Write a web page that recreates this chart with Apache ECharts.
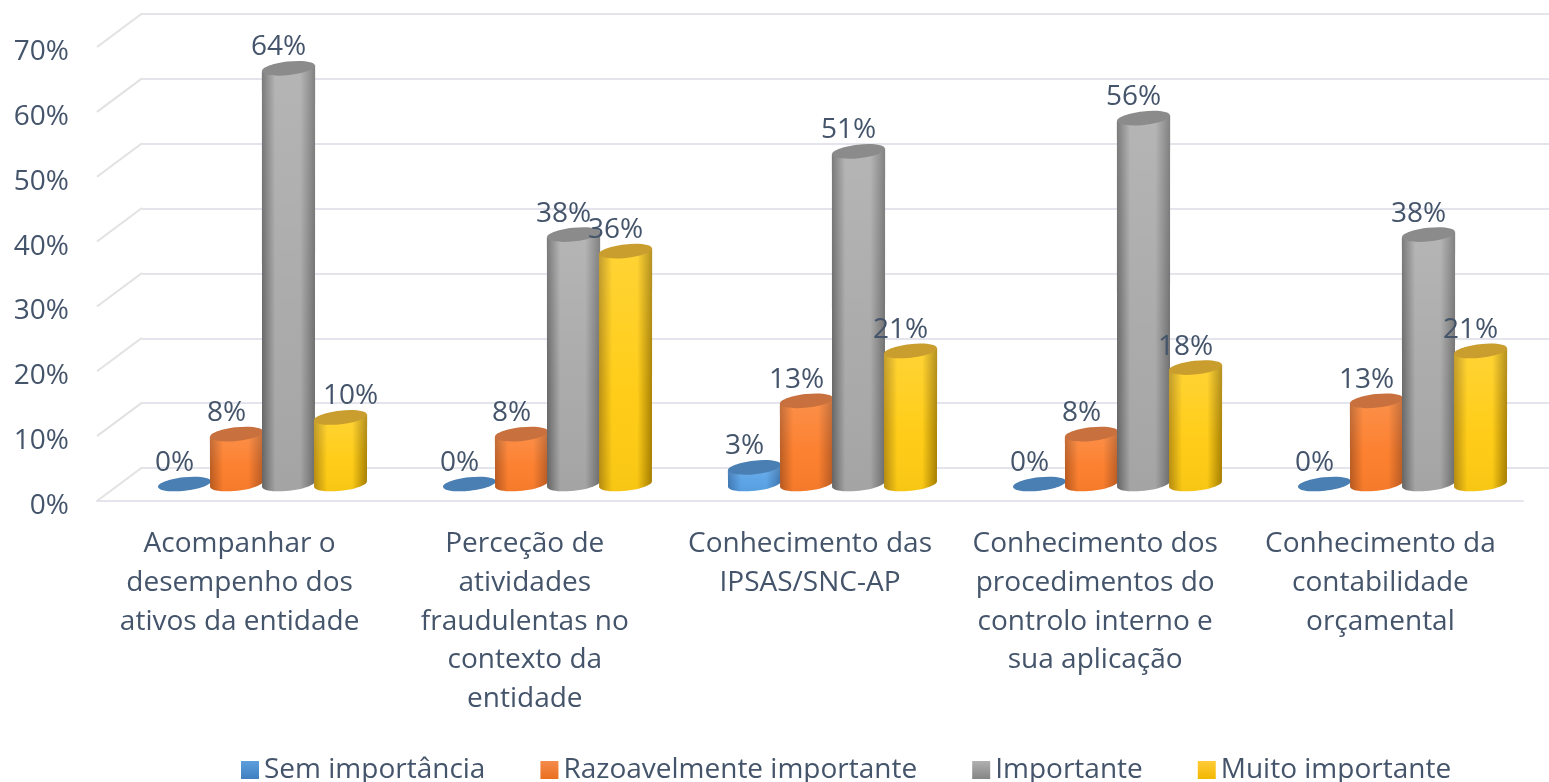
<!DOCTYPE html>
<html><head><meta charset="utf-8">
<style>html,body{margin:0;padding:0;background:#fff}#c{width:1549px;height:782px}</style>
<script src="https://cdn.jsdelivr.net/npm/echarts@6/dist/echarts.min.js"></script>
</head><body><div id="c"></div>
<script>
const categories = [
  "Acompanhar o\ndesempenho dos\nativos da entidade",
  "Perceção de\natividades\nfraudulentas no\ncontexto da\nentidade",
  "Conhecimento das\nIPSAS/SNC-AP",
  "Conhecimento dos\nprocedimentos do\ncontrolo interno e\nsua aplicação",
  "Conhecimento da\ncontabilidade\norçamental"
];
const semImportancia = [0, 0, 2.56, 0, 0];
const razoavelmente = [7.69, 7.69, 12.82, 7.69, 12.82];
const importante = [64.10, 38.46, 51.28, 56.41, 38.46];
const muitoImportante = [10.26, 35.90, 20.51, 17.95, 20.51];
const axisTicks = [0, 10, 20, 30, 40, 50, 60, 70];

const TEXT = '#44546A', FONT = '"Open Sans"', FS = 28, LINE = '#E4E4EC';
const palettes = [
  {name:'Sem importância', top:'#4A7FB3', edgeL:'#3F78B4', mid:'#5AA3E6', edgeR:'#3C74AE', key:['#5E9FDD','#3F7FC0']},
  {name:'Razoavelmente importante', top:'#C8703E', edgeL:'#B95A20', mid:'#FC7E2C', edgeR:'#B85A22', key:['#F58B4C','#E9701F']},
  {name:'Importante', top:'#8B8B8B', edgeL:'#666666', mid:'#A9A9A9', edgeR:'#6E6E6E', key:['#B0B0B0','#858585']},
  {name:'Muito importante', top:'#C99E2E', edgeL:'#B98E10', mid:'#FFCC14', edgeR:'#A88000', key:['#FFCB3A','#F2B800']}
];
const seriesValues = [semImportancia, razoavelmente, importante, muitoImportante];

function halfEllipse(cx, cy, rx, ry, rot, lower) {
  const pts = [], n = 24;
  for (let k = 0; k <= n; k++) {
    const t = lower ? Math.PI - Math.PI * k / n : Math.PI + Math.PI * k / n;
    const ex = rx * Math.cos(t), ey = ry * Math.sin(t);
    pts.push([cx + ex * Math.cos(rot) + ey * Math.sin(rot), cy - ex * Math.sin(rot) + ey * Math.cos(rot)]);
  }
  return pts;
}

function cylinder(si) {
  const p = palettes[si];
  return function (params, api) {
    const cat = api.value(0), val = api.value(1);
    const base = api.coord([cat, 0]), tip = api.coord([cat, val]);
    const band = api.size([1, 0])[0];
    const step = band * 0.1825;
    const cx = base[0] + (si - 1.5) * step;
    const rx = step / 2 + 0.6, ry = 6.8, rot = 0.11;
    const children = [];
    if (val > 0) {
      const bottom = halfEllipse(cx, base[1], rx, ry, rot, true);
      const pts = [[cx - rx, tip[1] + rx * Math.sin(rot)]].concat(bottom).concat([[cx + rx, tip[1] - rx * Math.sin(rot)]]);
      children.push({type:'polygon', shape:{points:pts}, style:{fill:{type:'linear',x:0,y:0,x2:1,y2:0,colorStops:[
        {offset:0,color:p.edgeL},{offset:0.25,color:p.mid},{offset:0.5,color:p.mid},{offset:0.72,color:p.mid},{offset:1,color:p.edgeR}]}}});
      children.push({type:'polygon', shape:{points:pts}, style:{fill:{type:'linear',x:0,y:0,x2:0,y2:1,colorStops:[
        {offset:0,color:'rgba(255,255,255,0.14)'},{offset:0.6,color:'rgba(255,255,255,0.02)'},{offset:1,color:'rgba(0,0,0,0.03)'}]}}});
    }
    children.push({type:'ellipse', shape:{cx:cx, cy:tip[1], rx:rx, ry:ry}, originX:cx, originY:tip[1], rotation:rot, style:{fill:p.top}});
    const shift = (si === 3 && cat === 0) ? 10 : -10;
    children.push({type:'text', z2:100, style:{text:Math.round(val) + '%', x:cx + shift, y:tip[1] - 21,
      fill:TEXT, font:FS + 'px ' + FONT, align:'center', verticalAlign:'middle'}});
    return {type:'group', children};
  };
}

const chart = echarts.init(document.getElementById('c'), null, {renderer:'canvas'});
const wallDepth = [45, -33.5];
const hidden = {axisLine:{show:false}, axisTick:{show:false}, axisLabel:{show:false}, splitLine:{show:false}};

chart.setOption({
  animation:false,
  backgroundColor:'#fff',
  grid:[
    {left:120, width:1425, top:30, height:454},   // plane the cylinders stand on
    {left:97, width:1426, top:47, height:454},    // front edge: category labels and floor
    {left:142, width:1440, top:14, height:454},   // back wall
    {left:97, width:1426, top:52, height:454}     // value-axis labels
  ],
  xAxis:[
    Object.assign({type:'category', gridIndex:0, data:categories}, hidden),
    {type:'category', gridIndex:1, data:categories,
      axisLine:{show:true, lineStyle:{color:LINE, width:2}}, axisTick:{show:false}, splitLine:{show:false},
      axisLabel:{interval:0, color:TEXT, fontFamily:FONT, fontSize:FS, lineHeight:38.7, margin:24, align:'center', verticalAlign:'top'}},
    Object.assign({type:'category', gridIndex:2, data:categories}, hidden),
    Object.assign({type:'category', gridIndex:3, data:categories}, hidden)
  ],
  yAxis:[
    Object.assign({type:'value', gridIndex:0, min:0, max:70, interval:10}, hidden),
    Object.assign({type:'value', gridIndex:1, min:0, max:70, interval:10}, hidden),
    {type:'value', gridIndex:2, min:0, max:70, interval:10, axisLine:{show:false}, axisTick:{show:false}, axisLabel:{show:false},
      splitLine:{show:true, lineStyle:{color:LINE, width:2}}},
    {type:'value', gridIndex:3, min:0, max:70, interval:10, axisLine:{show:false}, axisTick:{show:false}, splitLine:{show:false},
      axisLabel:{color:TEXT, fontFamily:FONT, fontSize:FS, margin:28, formatter:'{value}%'}}
  ],
  legend:{
    left:236, top:751, itemWidth:18, itemHeight:18, itemGap:55, icon:'rect',
    textStyle:{color:TEXT, fontFamily:FONT, fontSize:FS},
    data:palettes.map(p => ({name:p.name, itemStyle:{color:{type:'linear',x:0,y:0,x2:0,y2:1,
      colorStops:[{offset:0,color:p.key[0]},{offset:1,color:p.key[1]}]}}}))
  },
  series:[
    {type:'custom', name:'wall', silent:true, xAxisIndex:1, yAxisIndex:1, z:1, clip:false,
      data:axisTicks.map(v => [0, v]), encode:{x:0, y:1},
      renderItem:function (params, api) {
        const y = api.coord([0, api.value(1)])[1], x = params.coordSys.x;
        return {type:'line', shape:{x1:x, y1:y, x2:x + wallDepth[0], y2:y + wallDepth[1]}, style:{stroke:'#E2E2E2', lineWidth:2}};
      }}
  ].concat(palettes.map((p, si) => ({
    type:'custom', name:p.name, xAxisIndex:0, yAxisIndex:0, z:2 + si, clip:false,
    itemStyle:{color:p.key[0]},
    data:seriesValues[si].map((v, i) => [i, v]), encode:{x:0, y:1},
    renderItem:cylinder(si)
  })))
});
</script></body></html>
